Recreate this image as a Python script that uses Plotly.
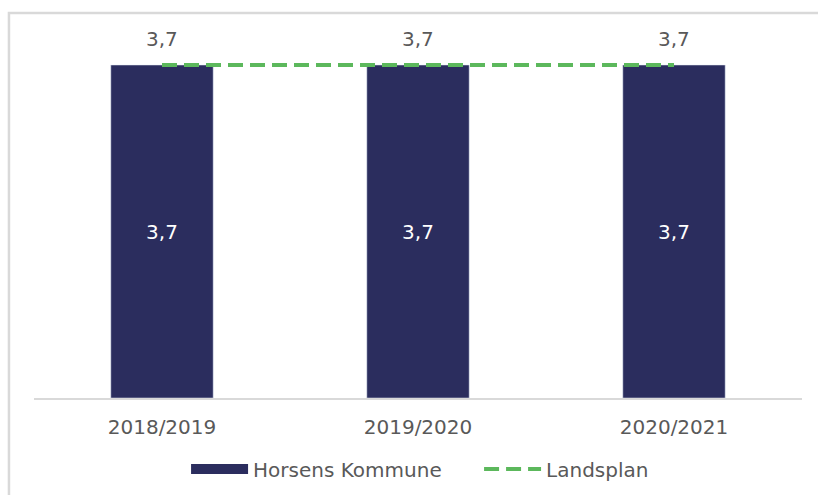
import plotly.graph_objs as go

# Data
years = ["2018/2019", "2019/2020", "2020/2021"]
horsens = [3.7, 3.7, 3.7]
landsplan = [3.7, 3.7, 3.7]

navy = "#2B2D5E"
green = "#5CB85C"
grey_txt = "#595959"
font_family = "DejaVu Sans, Verdana, sans-serif"


def fmt(v):
    return f"{v:.1f}".replace(".", ",")


fig = go.Figure()

# Bars for Horsens Kommune
fig.add_trace(go.Bar(
    x=years,
    y=horsens,
    name="Horsens Kommune",
    marker_color=navy,
    width=0.4,
    texttemplate="%{y:.1f}",
    textposition="inside",
    insidetextanchor="middle",
    textfont=dict(color="white", size=20, family=font_family),
    showlegend=False,
))

# Legend stand-in for the bar series (wide swatch like the original)
fig.add_trace(go.Scatter(
    x=[None], y=[None],
    mode="lines",
    name="Horsens Kommune",
    line=dict(color=navy, width=12),
))

# Landsplan dashed line
fig.add_trace(go.Scatter(
    x=years,
    y=landsplan,
    name="Landsplan",
    mode="lines",
    line=dict(color=green, width=4, dash="15px,7px"),
    cliponaxis=False,
))

# Data labels for Landsplan, placed above the line
for yr, v in zip(years, landsplan):
    fig.add_annotation(
        x=yr, y=v, text=fmt(v),
        showarrow=False, yshift=26,
        font=dict(color=grey_txt, size=20, family=font_family),
    )

# Light frame around the chart (left and top edges visible)
fig.add_shape(
    type="rect", xref="paper", yref="paper",
    x0=-0.0326, x1=1.2, y0=-0.5, y1=1.0694,
    line=dict(color="#D9D9D9", width=2.5),
    fillcolor="rgba(0,0,0,0)",
    layer="below",
)

fig.update_layout(
    width=818,
    height=495,
    margin=dict(l=34, r=16, t=38, b=97, autoexpand=False),
    separators=",.",
    plot_bgcolor="white",
    paper_bgcolor="white",
    font=dict(family=font_family, size=20, color=grey_txt),
    xaxis=dict(
        showline=True,
        linecolor="#D9D9D9",
        linewidth=1.5,
        ticks="",
        ticklabelstandoff=10,
        tickfont=dict(size=20, color=grey_txt),
        automargin=False,
        fixedrange=True,
    ),
    yaxis=dict(
        range=[0, 4.0],
        showticklabels=False,
        showgrid=False,
        zeroline=False,
        fixedrange=True,
    ),
    legend=dict(
        orientation="h",
        x=0.198,
        xanchor="left",
        yref="container",
        y=0.0525,
        yanchor="middle",
        font=dict(size=20, color=grey_txt),
        itemwidth=57,
        entrywidth=221,
        entrywidthmode="pixels",
        tracegroupgap=0,
    ),
    showlegend=True,
)

fig.write_html(
    "out.html",
    config={"displayModeBar": False},
    post_script="document.body.style.margin='0';",
)
